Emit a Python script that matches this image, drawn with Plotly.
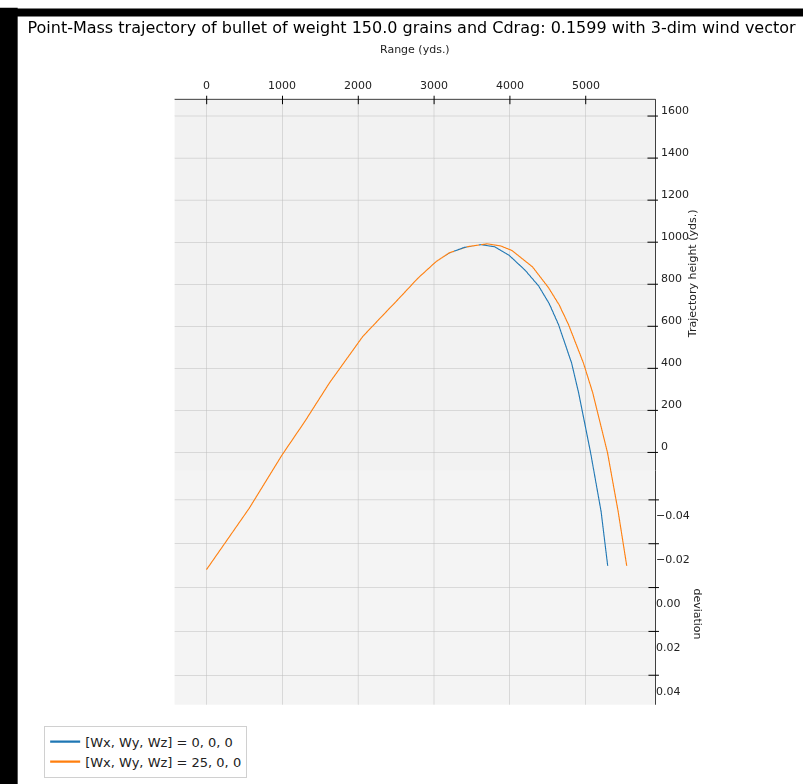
import plotly.graph_objects as go

# Range (yds.) and trajectory height (yds.) of the two shots
range_calm = [0, 564, 1003, 1290, 1623, 2063, 2313, 2541, 2787, 3030, 3200, 3400,
              3620, 3800, 3992, 4200, 4379, 4520, 4642, 4814, 4907, 5065, 5204, 5291]
height_calm = [0, 292, 549, 701, 889, 1110, 1205, 1291, 1386, 1466, 1506, 1533,
               1546, 1536, 1495, 1425, 1350, 1265, 1166, 984, 842, 557, 276, 18]

range_wind = [0, 564, 1003, 1290, 1623, 2063, 2313, 2541, 2787, 3030, 3200, 3450,
              3700, 3880, 4029, 4300, 4509, 4650, 4774, 4970, 5093, 5288, 5429, 5542]
height_wind = [0, 292, 549, 701, 889, 1110, 1205, 1291, 1386, 1466, 1507, 1537,
               1550, 1540, 1518, 1440, 1342, 1260, 1166, 984, 842, 557, 276, 18]

# Lateral deviation stays at zero for both wind vectors
dev_calm = [0.0] * len(range_calm)
dev_wind = [0.0] * len(range_wind)

series_names = ["[Wx, Wy, Wz] = 0, 0, 0", "[Wx, Wy, Wz] = 25, 0, 0"]
series_colors = ["#1f77b4", "#ff7f0e"]

x_ticks = [0, 1000, 2000, 3000, 4000, 5000]
z_ticks = [0, 200, 400, 600, 800, 1000, 1200, 1400, 1600]
y_ticks = [-0.04, -0.02, 0.00, 0.02, 0.04]

# axis limits of the 3-D box
X_LIM = [-420, 5920]
Y_LIM = [-0.0535, 0.0535]
Z_LIM = [-85, 1680]

FONT = "DejaVu Sans, sans-serif"
TICK_FONT = dict(family=FONT, size=11, color="#222")

fig = go.Figure()
for xs, ys, zs, name, color in [
    (range_calm, dev_calm, height_calm, series_names[0], series_colors[0]),
    (range_wind, dev_wind, height_wind, series_names[1], series_colors[1]),
]:
    fig.add_trace(go.Scatter3d(
        x=xs, y=ys, z=zs, mode="lines", name=name,
        line=dict(color=color, width=2.2),
        hoverinfo="skip",
    ))

# black axis spines: top edge (range), right wall edge (height), right floor edge (deviation)
x_far, y_far, z_top, z_bot = X_LIM[1], Y_LIM[0], Z_LIM[1], Z_LIM[0]
spines = [
    ([X_LIM[0], X_LIM[1]], [y_far, y_far], [z_top, z_top]),
    ([x_far, x_far], [y_far, y_far], [Z_LIM[0], Z_LIM[1]]),
    ([x_far, x_far], [Y_LIM[0], Y_LIM[1]], [z_bot, z_bot]),
]
for sx, sy, sz in spines:
    fig.add_trace(go.Scatter3d(
        x=sx, y=sy, z=sz, mode="lines", showlegend=False,
        line=dict(color="black", width=1.5), hoverinfo="skip",
    ))


def fmt_dev(v):
    s = f"{v:.2f}"
    return s.replace("-", "\u2212")


annotations = []


def tick_mark(x, y, z, dx, dy, shift_x=0, shift_y=0):
    annotations.append(dict(
        x=x, y=y, z=z, text="", showarrow=True, arrowhead=0, arrowwidth=1,
        arrowcolor="black", ax=dx, ay=dy, xshift=shift_x, yshift=shift_y,
        standoff=0, startstandoff=0, font=dict(size=1),
    ))


# range ticks along the top edge
for xv in x_ticks:
    tick_mark(xv, y_far, z_top, 0, -10, shift_y=-5)
    annotations.append(dict(
        x=xv, y=y_far, z=z_top, text=str(xv), showarrow=False,
        yshift=14, font=TICK_FONT,
    ))

# height ticks along the right wall edge
for zv in z_ticks:
    tick_mark(x_far, y_far, zv, 12, 0, shift_x=-8)
    annotations.append(dict(
        x=x_far, y=y_far, z=zv, text=str(zv), showarrow=False,
        xanchor="left", xshift=4, yshift=6, font=TICK_FONT,
    ))

# deviation ticks along the right floor edge
for yv in y_ticks:
    tick_mark(x_far, yv, z_bot, 12, 0, shift_x=-7)
    annotations.append(dict(
        x=x_far, y=yv, z=z_bot, text=fmt_dev(yv), showarrow=False,
        xanchor="left", xshift=-1, yshift=-16, font=TICK_FONT,
    ))

# axis titles
annotations.append(dict(
    x=sum(X_LIM) / 2, y=y_far, z=z_top, text="Range (yds.)", showarrow=False,
    yshift=50, font=TICK_FONT,
))
annotations.append(dict(
    x=x_far, y=y_far, z=850, text="Trajectory height (yds.)", showarrow=False,
    textangle=-90, xshift=37, font=TICK_FONT,
))
annotations.append(dict(
    x=x_far, y=0.012, z=z_bot, text="deviation", showarrow=False,
    textangle=90, xshift=42, font=TICK_FONT,
))

axis_common = dict(
    showbackground=True,
    gridcolor="#bdbdbd",
    gridwidth=1,
    showline=False,
    ticks="",
    showticklabels=False,
    zeroline=False,
    showspikes=False,
    title=dict(text=""),
)

fig.update_layout(
    width=803,
    height=784,
    paper_bgcolor="white",
    margin=dict(l=0, r=0, t=0, b=0),
    title=dict(
        text="Point-Mass trajectory of bullet of weight 150.0 grains and Cdrag: 0.1599 with 3-dim wind vector",
        x=0.5125, xanchor="center", y=0.965, yanchor="middle",
        font=dict(family=FONT, size=16, color="black"),
    ),
    scene=dict(
        domain=dict(x=[0.034, 1.0], y=[0.0522, 0.9222]),
        xaxis=dict(axis_common, range=X_LIM, tickvals=x_ticks, backgroundcolor="#f9f9f9"),
        yaxis=dict(axis_common, range=[Y_LIM[1], Y_LIM[0]], tickvals=y_ticks,
                   backgroundcolor="#f2f2f2"),
        zaxis=dict(axis_common, range=Z_LIM, tickvals=z_ticks, backgroundcolor="#f4f4f4"),
        aspectmode="manual",
        aspectratio=dict(x=1.41, y=1.38, z=1.255),
        camera=dict(
            projection=dict(type="orthographic"),
            eye=dict(x=0.0, y=-1.136, z=0.653),
            center=dict(x=0, y=0, z=0),
            up=dict(x=0, y=0, z=1),
        ),
        annotations=annotations,
    ),
    legend=dict(
        x=0.055, y=0.008, xanchor="left", yanchor="bottom",
        bgcolor="white", bordercolor="#d0d0d0", borderwidth=1,
        font=dict(family=FONT, size=13, color="#222"),
    ),
    shapes=[
        dict(type="rect", xref="paper", yref="paper", x0=0, x1=0.022, y0=0, y1=0.99,
             fillcolor="black", line_width=0, layer="above"),
        dict(type="rect", xref="paper", yref="paper", x0=0, x1=1, y0=0.979, y1=0.989,
             fillcolor="black", line_width=0, layer="above"),
    ],
)

fig.write_html("out.html")
